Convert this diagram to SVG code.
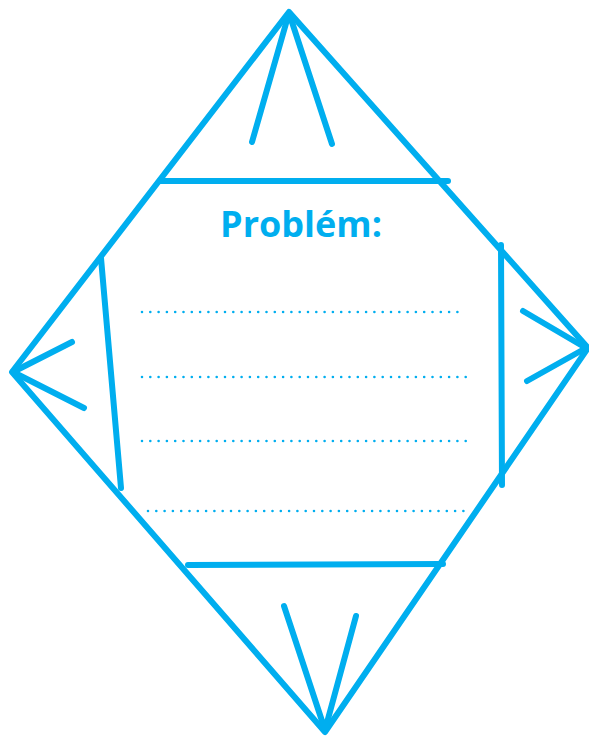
<svg xmlns="http://www.w3.org/2000/svg" width="589" height="738" viewBox="0 0 589 738">
<style>
.s{fill:none;stroke:#00AEEF;stroke-width:6;stroke-linecap:round;stroke-linejoin:round}
.d{fill:none;stroke:#00AEEF;stroke-width:2.6;stroke-linecap:round;stroke-dasharray:0 8.3}
.t{font-family:"Open Sans","Noto Sans","Liberation Sans",sans-serif;font-weight:bold;font-size:36px;fill:#00AEEF}
</style>
<rect width="589" height="738" fill="#fff"/>
<g id="outline">
<polygon class="s" points="289,12 588,348 325,732 12,372"/>
</g>
<g id="flaps">
<line class="s" x1="160" y1="181" x2="448" y2="181"/>
<line class="s" x1="101" y1="258" x2="121" y2="488"/>
<line class="s" x1="501" y1="245" x2="502" y2="485"/>
<line class="s" x1="188" y1="565" x2="443" y2="564"/>
</g>
<g id="arrows">
<polyline class="s" points="252,142 289,13 332,144"/>
<polyline class="s" points="72,342 13,372 84,408"/>
<polyline class="s" points="523,311 586,348 527,381"/>
<polyline class="s" points="284,606 325,730 356,616"/>
</g>
<g id="label">
<text class="t" x="301" y="237" text-anchor="middle">Problém:</text>
</g>
<g id="lines">
<line class="d" x1="142" y1="312" x2="461" y2="312"/>
<line class="d" x1="142" y1="377" x2="466" y2="377"/>
<line class="d" x1="142" y1="441" x2="467" y2="441"/>
<line class="d" x1="148" y1="511" x2="466" y2="511"/>
</g>
</svg>
